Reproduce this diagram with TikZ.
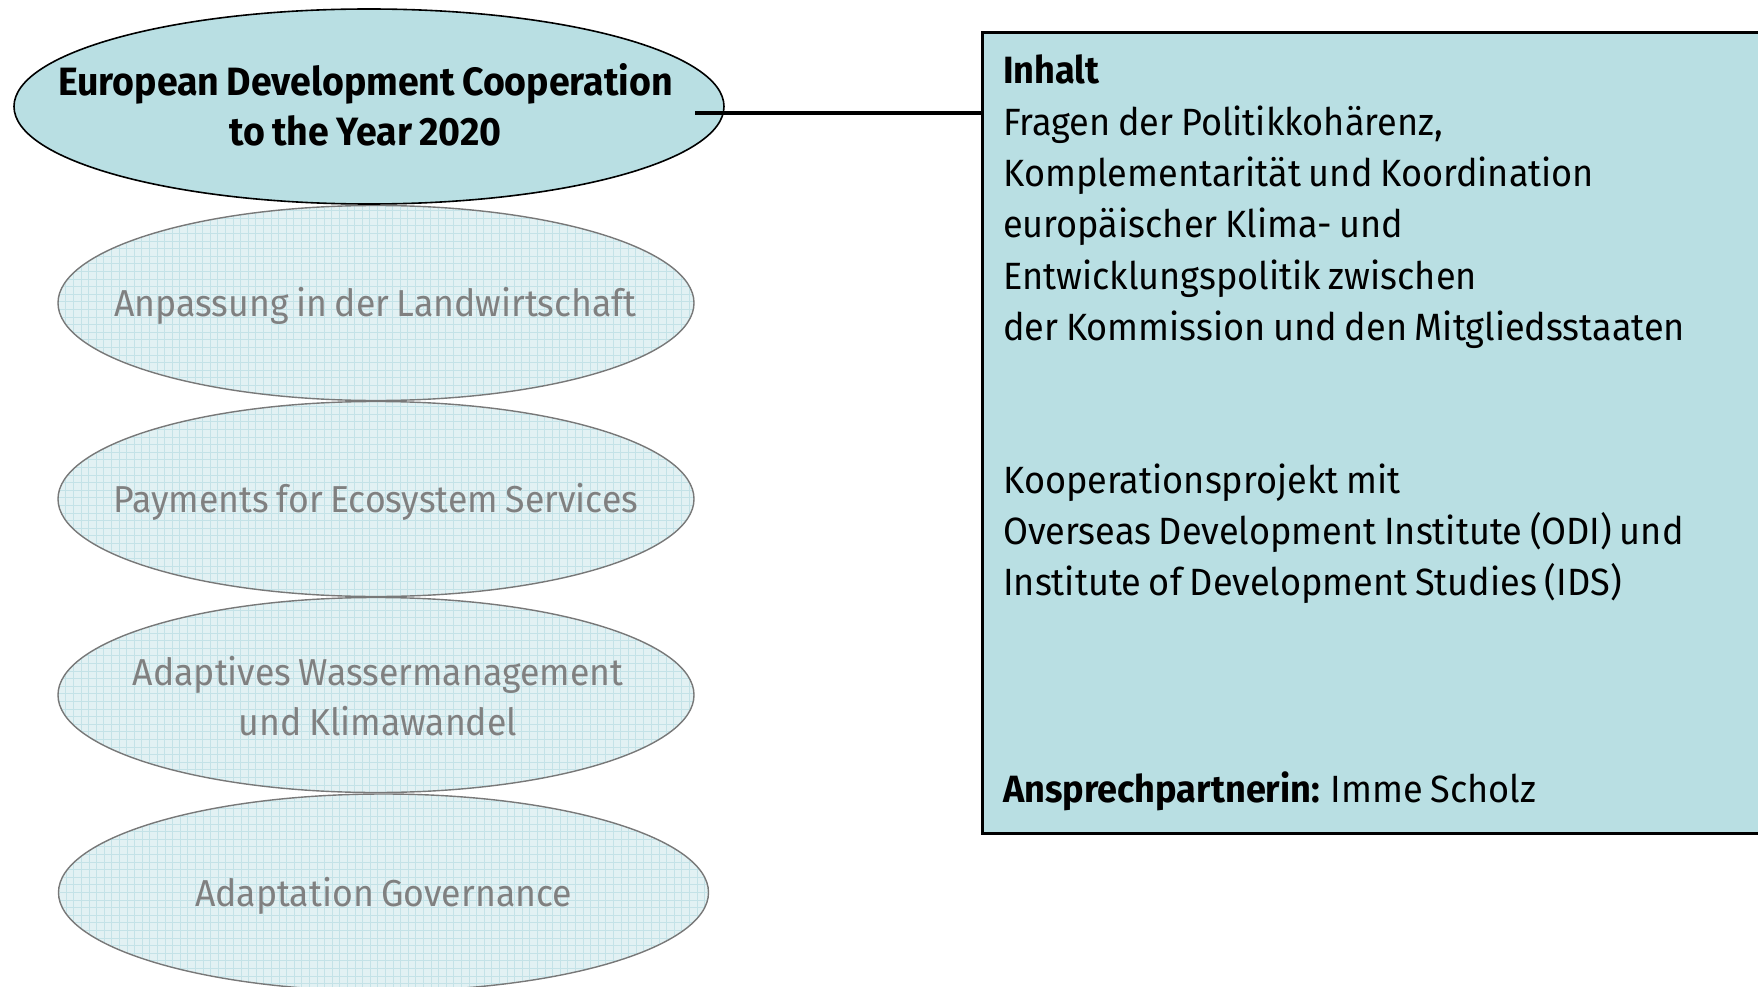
\documentclass[tikz,border=0pt]{standalone}
\usepackage{fontspec}
\setmainfont{Fira Sans}[FakeStretch=0.95, WordSpace=0.8]
\usetikzlibrary{shapes.geometric}
\definecolor{tealfill}{RGB}{185,223,227}
\definecolor{fadefill}{RGB}{226,241,243}
\definecolor{gridc}{RGB}{196,226,231}
\definecolor{fadedraw}{RGB}{120,120,120}
\definecolor{graytext}{RGB}{128,128,128}
\begin{document}
\begin{tikzpicture}[x=1pt,y=-1pt,
  topell/.style={ellipse, draw=black, line width=1.6pt, fill=tealfill, inner sep=0pt},
  faded/.style={ellipse, draw=fadedraw, line width=1.4pt, fill=fadefill, inner sep=0pt,
    path picture={
      \foreach \i in {0,...,90}{\draw[gridc, line width=0.6pt]
        ([xshift=\i*7.6pt]path picture bounding box.south west) --
        ([xshift=\i*7.6pt]path picture bounding box.north west);}
      \foreach \j in {0,...,30}{\draw[gridc, line width=0.6pt]
        ([yshift=\j*7.6pt]path picture bounding box.south west) --
        ([yshift=\j*7.6pt]path picture bounding box.south east);}
    }},
  fadetext/.style={text=graytext, font=\fontsize{37.5}{50.5}\selectfont, align=center},
  titletext/.style={text=black, font=\fontsize{39.5}{50.5}\selectfont\bfseries, align=center},
  boxtext/.style={text=black, font=\fontsize{38}{51.3}\selectfont, align=flush left, anchor=base west, inner sep=0pt, text width=740pt},
  infobox/.style={draw=black, line width=3pt, fill=tealfill, anchor=north west, inner sep=0pt},
  conn/.style={draw=black, line width=3.2pt}
]
\useasboundingbox (0,0) rectangle (1758,987);

% faded ellipses
\node[faded, minimum width=636pt, minimum height=195pt] (e1) at (376,303) {};
\node[faded, minimum width=636pt, minimum height=195pt] (e2) at (376,499) {};
\node[faded, minimum width=636pt, minimum height=195pt] (e3) at (376,695) {};
\node[faded, minimum width=650pt, minimum height=197pt] (e4) at (383.5,892.5) {};

\node[fadetext] (t1) at (375.6,305.5) {Anpassung in der Landwirtschaft};
\node[fadetext] (t2) at (376,502) {Payments for Ecosystem Services};
\node[fadetext] (t3) at (378,696) {Adaptives Wassermanagement\\und Klimawandel};
\node[fadetext] (t4) at (383.5,896) {Adaptation Governance};

% top ellipse
\node[topell, minimum width=710pt, minimum height=195pt] (e0) at (369,106.5) {};
\node[titletext] (t0) at (365.5,105) {European Development Cooperation\\to the Year 2020};

% info box
\node[infobox, minimum width=800pt, minimum height=801pt] (box) at (981,31) {};
\coordinate (cstart) at (695,113);
\draw[conn] (cstart) -- (cstart -| box.west);

\node[boxtext] (inhalt) at (1003,84) {\textbf{Inhalt}\\
Fragen der Politikkohärenz,\\
Komplementarität und Koordination\\
europäischer Klima- und\\
Entwicklungspolitik zwischen\\
der Kommission und den Mitgliedsstaaten};
\node[boxtext] (koop) at (1003,493) {Kooperationsprojekt mit\\
Overseas Development Institute (ODI) und\\
Institute of Development Studies (IDS)};
\node[boxtext] (ansp) at (1003,802) {\textbf{Ansprechpartnerin:} Imme Scholz};
\end{tikzpicture}
\end{document}
